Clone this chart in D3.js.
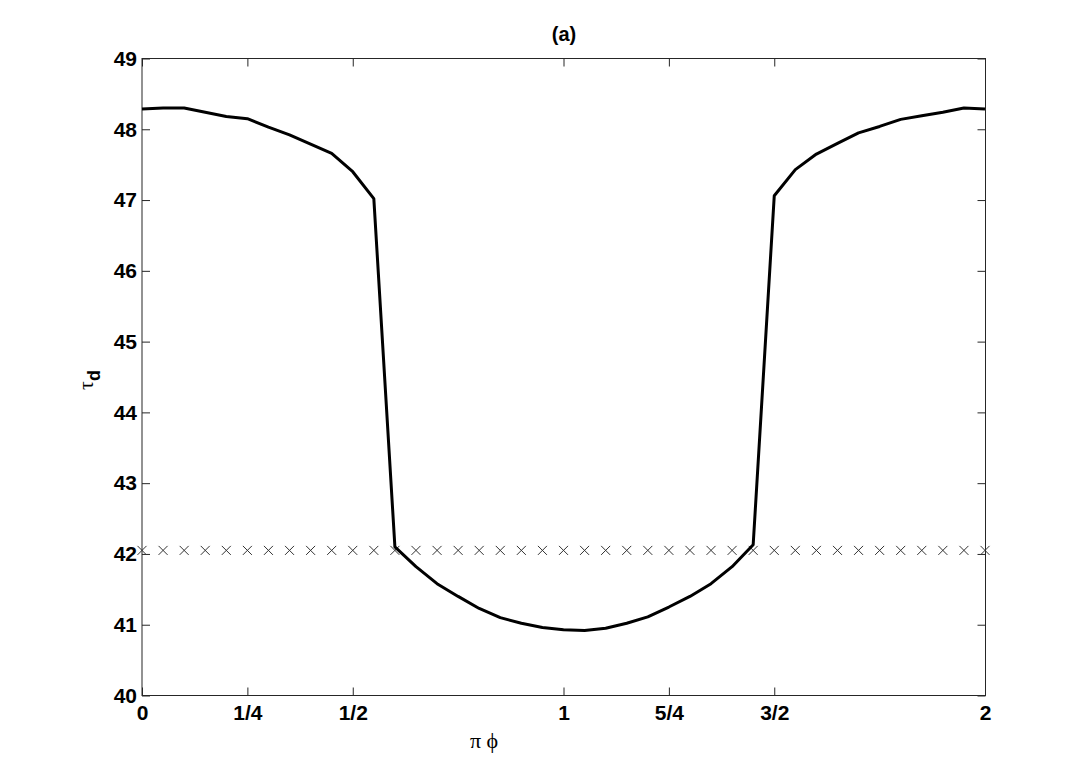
<!DOCTYPE html>
<html><head><meta charset="utf-8">
<script src="https://cdn.jsdelivr.net/npm/d3@7"></script>
<style>body{margin:0;background:#fff}</style>
</head><body>
<svg id="c" width="1091" height="782"></svg>
<script>
const phi = [0,0.05,0.1,0.15,0.2,0.25,0.3,0.35,0.4,0.45,0.5,0.55,0.6,0.65,0.7,0.75,0.8,0.85,0.9,0.95,1.0,1.05,1.1,1.15,1.2,1.25,1.3,1.35,1.4,1.45,1.5,1.55,1.6,1.65,1.7,1.75,1.8,1.85,1.9,1.95,2.0];
const tau = [48.285,48.30,48.30,48.24,48.18,48.15,48.03,47.92,47.79,47.66,47.40,47.02,42.10,41.82,41.58,41.40,41.23,41.10,41.02,40.96,40.93,40.92,40.95,41.02,41.11,41.25,41.40,41.58,41.82,42.13,47.06,47.43,47.65,47.80,47.95,48.04,48.14,48.19,48.24,48.30,48.285];
const refLevel = 42.05;
const xTickVals = [0,0.25,0.5,1,1.25,1.5,2];
const xTickLabels = ["0","1/4","1/2","1","5/4","3/2","2"];
const yTickVals = [40,41,42,43,44,45,46,47,48,49];

const svg = d3.select("#c");
const L=142, R=985.5, T=58.5, B=695.5;
const x = d3.scaleLinear().domain([0,2]).range([L,985]);
const y = d3.scaleLinear().domain([40,49]).range([B,T]);
const axCol = "#262626";

// box
svg.append("rect").attr("x",L).attr("y",T).attr("width",R-L).attr("height",B-T)
  .attr("fill","none").attr("stroke",axCol).attr("stroke-width",1);

// axes with inward ticks
const fontT = "'Liberation Sans', Arial, sans-serif";
const xAx = svg.append("g").attr("transform",`translate(0,${B})`)
  .call(d3.axisBottom(x).tickValues(xTickVals).tickFormat((d,i)=>xTickLabels[i]).tickSizeInner(-8).tickSizeOuter(0).tickPadding(10));
const xAxTop = svg.append("g").attr("transform",`translate(0,${T})`)
  .call(d3.axisTop(x).tickValues(xTickVals).tickFormat("").tickSizeInner(-8).tickSizeOuter(0));
const yAx = svg.append("g").attr("transform",`translate(${L},0)`)
  .call(d3.axisLeft(y).tickValues(yTickVals).tickSizeInner(-8).tickSizeOuter(0).tickPadding(5));
const yAxR = svg.append("g").attr("transform",`translate(${R},0)`)
  .call(d3.axisRight(y).tickValues(yTickVals).tickFormat("").tickSizeInner(-8).tickSizeOuter(0));
[xAx,xAxTop,yAx,yAxR].forEach(g=>{
  g.select(".domain").remove();
  g.selectAll("line").attr("stroke",axCol);
  g.selectAll("text").attr("font-family",fontT).attr("font-weight","bold").attr("font-size",21).attr("fill","#000");
});

// reference markers (crosses)
const crosses = svg.append("g");
phi.forEach(p=>{
  const cx=x(p), cy=y(refLevel), s=4.5;
  crosses.append("path").attr("d",`M${cx-s},${cy-s}L${cx+s},${cy+s}M${cx-s},${cy+s}L${cx+s},${cy-s}`)
    .attr("stroke","#333").attr("stroke-width",1).attr("fill","none");
});

// main line
svg.append("path").datum(phi.map((p,i)=>[p,tau[i]]))
  .attr("d",d3.line().x(d=>x(d[0])).y(d=>y(d[1])))
  .attr("fill","none").attr("stroke","#000").attr("stroke-width",3).attr("stroke-linejoin","round");

// title
svg.append("text").attr("x",564).attr("y",41).attr("text-anchor","middle")
  .attr("font-family",fontT).attr("font-weight","bold").attr("font-size",20).text("(a)");

// x label
svg.append("text").attr("x",484).attr("y",748).attr("text-anchor","middle")
  .attr("font-family","'Liberation Serif', 'Times New Roman', serif").attr("font-size",22).text("π ϕ");

// y label
const yl = svg.append("text").attr("transform","translate(93,380) rotate(-90)").attr("text-anchor","middle");
yl.append("tspan").attr("font-family","'Liberation Serif', serif").attr("font-size",22).text("τ");
yl.append("tspan").attr("font-family",fontT).attr("font-weight","bold").attr("font-size",18).attr("dy",7).text("d");
</script>
</body></html>
